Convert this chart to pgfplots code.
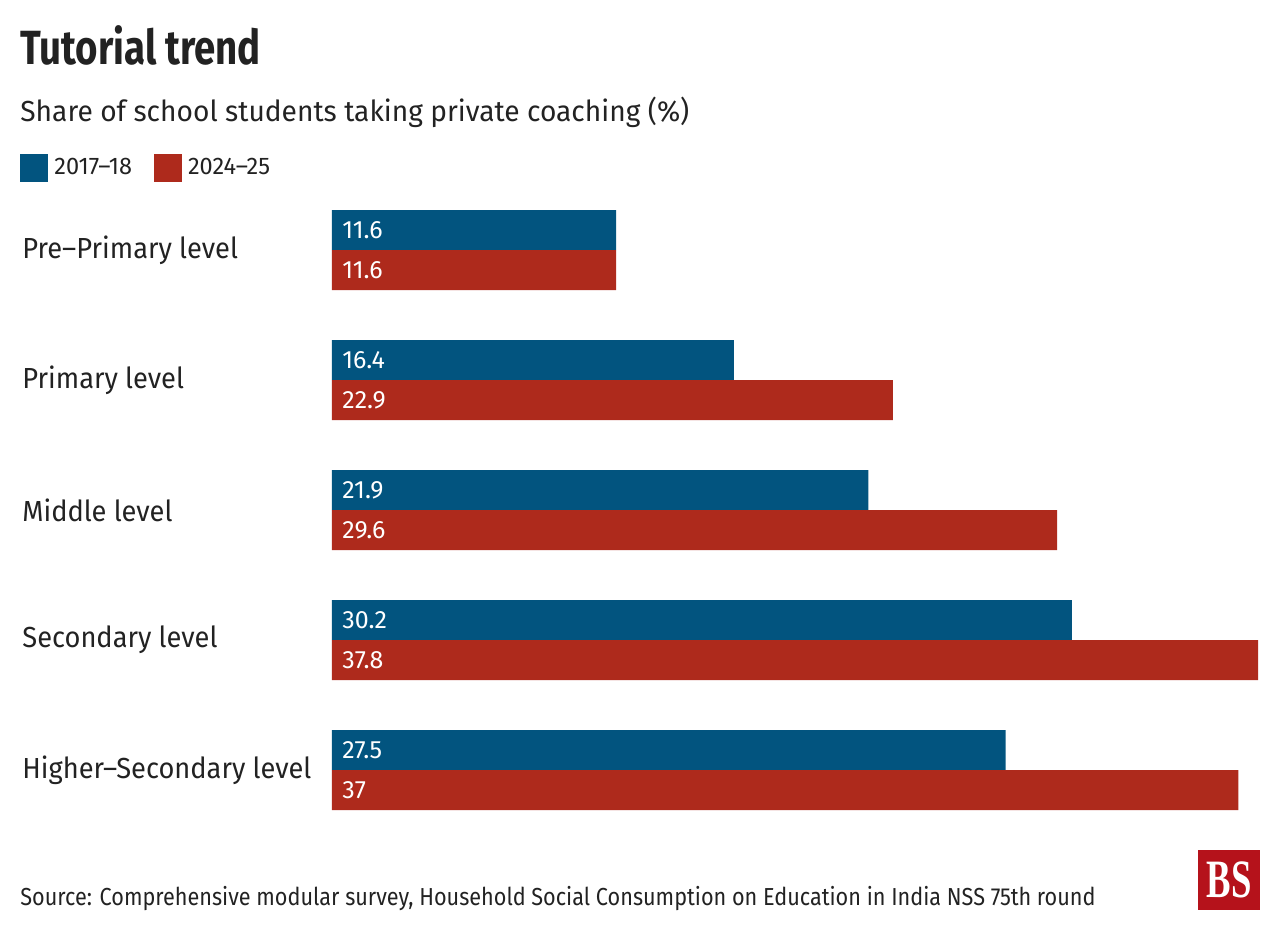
\documentclass[border=0pt]{standalone}
\usepackage{pgfplots}
\pgfplotsset{compat=1.18}
\usepackage{fontspec}
\setmainfont{Fira Sans}[FakeStretch=0.94]
\newfontfamily\titlefont{Fira Sans}[FakeStretch=0.80]
\newfontfamily\subfont{Fira Sans}[FakeStretch=0.97]
\newfontfamily\srcfont{Fira Sans}[FakeStretch=0.88]
\newfontfamily\legfont{Fira Sans}[FakeStretch=0.98]
\newfontfamily\valfont{Fira Sans}[FakeStretch=1.0]
\newfontfamily\bsfont{Liberation Serif}
\definecolor{bsblue}{HTML}{02547F}
\definecolor{bsred}{HTML}{AE2A1C}
\definecolor{logored}{HTML}{B5121B}
\definecolor{txt}{HTML}{222222}
\begin{document}
\begin{tikzpicture}
\useasboundingbox (0,0) rectangle (640pt,-465pt);
\node[anchor=base west, inner sep=0pt, text=txt, font=\titlefont\bfseries\fontsize{24}{28}\selectfont] at (10pt,-32.5pt) {Tutorial trend};
\node[anchor=base west, inner sep=0pt, text=txt, font=\subfont\fontsize{14.5}{17}\selectfont] at (10pt,-61pt) {Share of school students taking private coaching (\%)};
\node[anchor=base west, inner sep=0pt, text=txt, font=\srcfont\fontsize{12.3}{15}\selectfont] at (10pt,-452.5pt) {Source: Comprehensive modular survey, Household Social Consumption on Education in India NSS 75th round};
\fill[logored] (599pt,-425pt) rectangle (630pt,-455pt);
\node[text=white, inner sep=0pt, xscale=0.68, font=\bsfont\bfseries\fontsize{27}{28}\selectfont] at (614.5pt,-440pt) {BS};
\begin{axis}[
  at={(166pt,-405pt)}, anchor=south west,
  scale only axis, width=463pt, height=300pt,
  xmin=0, xmax=37.8, ymin=-0.3077, ymax=4.3077,
  axis line style={draw=none}, major tick length=0pt,
  xtick=\empty, ytick={0,1,2,3,4},
  yticklabels={Higher–Secondary level, Secondary level, Middle level, Primary level, Pre–Primary level},
  yticklabel style={anchor=west, inner sep=0pt, xshift=-155pt, text=txt, font=\fontsize{14.5}{17}\selectfont},
  clip=false,
  bar width=20pt,
  legend style={at={(axis description cs:-0.3369,1.07)}, anchor=west, draw=none, fill=none,
    font=\legfont\fontsize{12}{14}\selectfont, text=txt, legend columns=2,
    /tikz/every even column/.append style={column sep=11pt},
    nodes={inner sep=0pt}, inner sep=0pt},
  legend cell align=left,
  legend image code/.code={\fill[#1] (0pt,-7pt) rectangle (14pt,7pt);},
]
\addplot[xbar, bar shift=10pt, fill=bsblue, draw=none] coordinates {(27.5,0) (30.2,1) (21.9,2) (16.4,3) (11.6,4)};
\addlegendentry{\hspace{3pt}2017–18}
\addplot[xbar, bar shift=-10pt, fill=bsred, draw=none] coordinates {(37,0) (37.8,1) (29.6,2) (22.9,3) (11.6,4)};
\addlegendentry{\hspace{3pt}2024–25}
\addplot[draw=none, mark=none, nodes near coords, point meta=explicit symbolic,
  every node near coord/.style={anchor=west, yshift=10pt, xshift=5pt, inner sep=0pt, text=white, font=\valfont\fontsize{12.5}{14}\selectfont}]
  coordinates {(0,0)[27.5] (0,1)[30.2] (0,2)[21.9] (0,3)[16.4] (0,4)[11.6]};
\addplot[draw=none, mark=none, nodes near coords, point meta=explicit symbolic,
  every node near coord/.style={anchor=west, yshift=-10pt, xshift=5pt, inner sep=0pt, text=white, font=\valfont\fontsize{12.5}{14}\selectfont}]
  coordinates {(0,0)[37] (0,1)[37.8] (0,2)[29.6] (0,3)[22.9] (0,4)[11.6]};
\end{axis}
\end{tikzpicture}
\end{document}
